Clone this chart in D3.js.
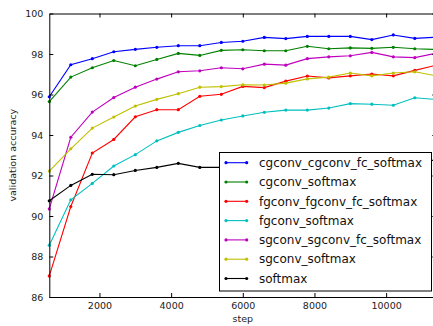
<!DOCTYPE html>
<html>
<head>
<meta charset="utf-8">
<script src="https://cdn.jsdelivr.net/npm/d3@7"></script>
<style>
  body { margin: 0; background: #fff; }
  svg { display: block; font-family: "DejaVu Sans", sans-serif; }
</style>
</head>
<body>
<div id="chart"></div>
<script>
// steps at which validation accuracy was logged
const steps = [600, 1200, 1800, 2400, 3000, 3600, 4200, 4800, 5400, 6000,
               6600, 7200, 7800, 8400, 9000, 9600, 10200, 10800, 11400];

const cgconvCgconvFc = [95.89, 97.47, 97.77, 98.11, 98.23, 98.33, 98.41, 98.41, 98.57, 98.63,
                        98.82, 98.76, 98.87, 98.87, 98.87, 98.71, 98.94, 98.77, 98.83];
const cgconv = [95.65, 96.86, 97.32, 97.68, 97.42, 97.73, 98.03, 97.93, 98.18, 98.21,
                98.16, 98.16, 98.38, 98.26, 98.30, 98.28, 98.33, 98.26, 98.22];
const fgconvFgconvFc = [87.04, 90.47, 93.11, 93.78, 94.90, 95.25, 95.25, 95.91, 96.01, 96.40,
                        96.34, 96.66, 96.91, 96.82, 96.92, 97.01, 96.92, 97.19, 97.45];
const fgconv = [88.56, 90.80, 91.61, 92.47, 93.03, 93.71, 94.13, 94.47, 94.74, 94.94,
                95.12, 95.23, 95.23, 95.33, 95.55, 95.52, 95.47, 95.84, 95.75];
const sgconvSgconvFc = [90.35, 93.89, 95.13, 95.85, 96.36, 96.76, 97.12, 97.17, 97.32, 97.27,
                        97.50, 97.45, 97.77, 97.86, 97.91, 98.08, 97.86, 97.82, 98.04];
const sgconv = [92.22, 93.32, 94.34, 94.89, 95.43, 95.76, 96.04, 96.36, 96.39, 96.48,
                96.47, 96.56, 96.77, 96.86, 97.06, 96.92, 97.06, 97.12, 96.92];
const softmaxOnly = [90.75, 91.51, 92.06, 92.04, 92.25, 92.40, 92.60, 92.40, 92.40, 92.45,
                     92.50, 92.55, 92.60, 92.60, 92.65, 92.70, 92.70, 92.72, 92.75];

const seriesNames = ['cgconv_cgconv_fc_softmax', 'cgconv_softmax', 'fgconv_fgconv_fc_softmax',
                     'fgconv_softmax', 'sgconv_sgconv_fc_softmax', 'sgconv_softmax', 'softmax'];
const seriesValues = [cgconvCgconvFc, cgconv, fgconvFgconvFc, fgconv, sgconvSgconvFc, sgconv, softmaxOnly];
const seriesColors = ['#0000ff', '#008000', '#ff0000', '#00bfbf', '#bf00bf', '#bfbf00', '#000000'];

const xTicks = [2000, 4000, 6000, 8000, 10000];
const yTicks = [86, 88, 90, 92, 94, 96, 98, 100];

const width = 433;
const height = 326;
// right edge of the axes sits just past the visible window, as in the original crop
const plot = { left: 49.3, right: 436.3, top: 13.5, bottom: 297 };

const x = d3.scaleLinear().domain([600, 11400]).range([plot.left, plot.right]);
const y = d3.scaleLinear().domain([86, 100]).range([plot.bottom, plot.top]);

const svg = d3.select('#chart')
    .append('svg')
    .attr('width', width)
    .attr('height', height);

svg.append('rect').attr('width', width).attr('height', height).attr('fill', '#fff');

// Lines and markers
const line = d3.line()
    .x((d, i) => x(steps[i]))
    .y(d => y(d));

seriesValues.forEach((vals, k) => {
    const g = svg.append('g');
    g.append('path')
        .datum(vals)
        .attr('d', line)
        .attr('fill', 'none')
        .attr('stroke', seriesColors[k])
        .attr('stroke-width', 1.1);
    g.selectAll('circle')
        .data(vals)
        .enter()
        .append('circle')
        .attr('cx', (d, i) => x(steps[i]))
        .attr('cy', d => y(d))
        .attr('r', 1.6)
        .attr('fill', seriesColors[k]);
});

// Axes: ticks point inward on all four sides
function styleAxis(g) {
    g.select('.domain').attr('stroke', '#000').attr('stroke-width', 1);
    g.selectAll('.tick line').attr('stroke', '#000');
    g.selectAll('.tick text').attr('fill', '#222').attr('font-size', '9.5px')
        .attr('font-family', '"DejaVu Sans", sans-serif');
}

svg.append('g')
    .attr('transform', `translate(0,${plot.bottom})`)
    .call(d3.axisBottom(x).tickValues(xTicks).tickFormat(d3.format('d'))
        .tickSizeInner(-4).tickSizeOuter(0).tickPadding(5))
    .call(styleAxis);

svg.append('g')
    .attr('transform', `translate(0,${plot.top})`)
    .call(d3.axisTop(x).tickValues(xTicks).tickFormat('')
        .tickSizeInner(-4).tickSizeOuter(0))
    .call(styleAxis);

svg.append('g')
    .attr('transform', `translate(${plot.left},0)`)
    .call(d3.axisLeft(y).tickValues(yTicks).tickFormat(d3.format('d'))
        .tickSizeInner(-4).tickSizeOuter(0).tickPadding(6))
    .call(styleAxis);

svg.append('g')
    .attr('transform', `translate(${plot.right},0)`)
    .call(d3.axisRight(y).tickValues(yTicks).tickFormat('')
        .tickSizeInner(-4).tickSizeOuter(0))
    .call(styleAxis);

// Axis labels
svg.append('text')
    .attr('x', (plot.left + plot.right) / 2)
    .attr('y', 322)
    .attr('text-anchor', 'middle')
    .attr('font-size', '9.5px')
    .attr('fill', '#222')
    .text('step');

svg.append('text')
    .attr('transform', `translate(16,${(plot.top + plot.bottom) / 2}) rotate(-90)`)
    .attr('text-anchor', 'middle')
    .attr('font-size', '9.5px')
    .attr('fill', '#222')
    .text('validation accuracy');

// Legend
const legend = svg.append('g');
legend.append('rect')
    .attr('x', 219.5).attr('y', 152.5)
    .attr('width', 212).attr('height', 138.5)
    .attr('fill', '#fff')
    .attr('stroke', '#000')
    .attr('stroke-width', 1);

seriesNames.forEach((name, k) => {
    const cy = 162.7 + k * 19.3;
    legend.append('line')
        .attr('x1', 226).attr('x2', 246.7)
        .attr('y1', cy).attr('y2', cy)
        .attr('stroke', seriesColors[k])
        .attr('stroke-width', 1.1);
    [226, 246.7].forEach(cx => {
        legend.append('circle')
            .attr('cx', cx).attr('cy', cy).attr('r', 1.6)
            .attr('fill', seriesColors[k]);
    });
    legend.append('text')
        .attr('x', 259)
        .attr('y', cy)
        .attr('dy', '0.35em')
        .attr('font-size', '12px')
        .attr('fill', '#111')
        .text(name);
});
</script>
</body>
</html>
